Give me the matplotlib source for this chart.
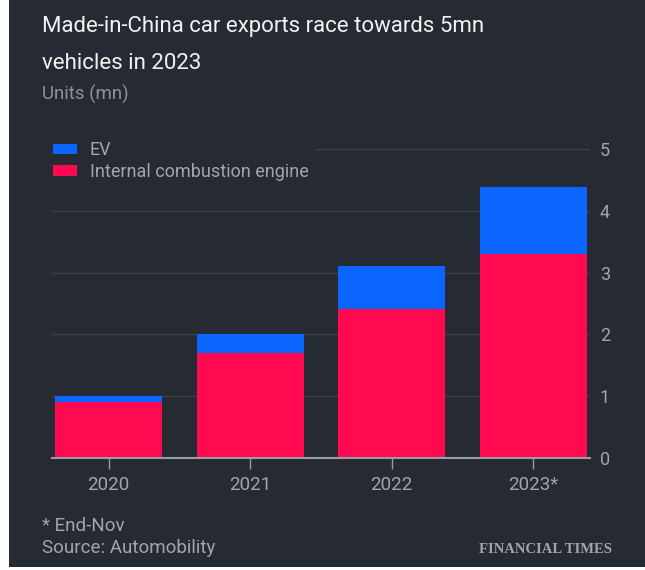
import matplotlib
matplotlib.use("Agg")
import matplotlib.pyplot as plt
from matplotlib.patches import Rectangle, Patch

years = ["2020", "2021", "2022", "2023*"]
ice = [0.90, 1.70, 2.41, 3.30]
ev = [0.10, 0.30, 0.69, 1.09]

bg = "#262a33"
blue = "#0a66ff"
pink = "#ff0a50"
grey_txt = "#a3a5aa"
grid_col = "#3d414a"

plt.rcParams['font.family'] = ['Roboto', 'DejaVu Sans']

fig = plt.figure(figsize=(6.45, 5.7), dpi=100, facecolor="white")
# dark panel (the screenshot has a thin white margin on the left and bottom)
fig.patches.append(Rectangle((9 / 645, 3 / 570), 1, 1, transform=fig.transFigure,
                             facecolor=bg, edgecolor="none", zorder=-5))

ax = fig.add_axes([52 / 645, 1 - 458 / 570, (590 - 52) / 645, (458 - 149) / 570])
ax.set_facecolor(bg)

x = list(range(len(years)))
ax.bar(x, ice, width=0.755, color=pink, zorder=3, label="Internal combustion engine")
ax.bar(x, ev, width=0.755, bottom=ice, color=blue, zorder=3, label="EV")

ax.set_xlim(-0.4, 3.4)
ax.set_ylim(0, 5)
ax.set_yticks([0, 1, 2, 3, 4, 5])
ax.yaxis.tick_right()
ax.tick_params(axis="y", length=0, pad=7, labelsize=13, labelcolor=grey_txt)
ax.set_xticks(x)
ax.set_xticklabels(years)
ax.tick_params(axis="x", length=8, width=1, color="#9a9ca0", pad=5,
               labelsize=13.5, labelcolor=grey_txt)
ax.grid(axis="y", color=grid_col, linewidth=1, zorder=0)
for s in ["left", "right", "top"]:
    ax.spines[s].set_visible(False)
ax.spines["bottom"].set_color("#9a9ca0")
ax.spines["bottom"].set_linewidth(1.5)
ax.spines["bottom"].set_zorder(4)

# legend box hides the top gridline behind it, like the original
handles = [Patch(facecolor=blue), Patch(facecolor=pink)]
leg = fig.legend(handles, ["EV", "Internal combustion engine"],
                 loc="upper left", bbox_to_anchor=(48 / 645, 1 - 136 / 570),
                 frameon=True, facecolor=bg, edgecolor=bg, framealpha=1,
                 fontsize=13, labelcolor=grey_txt, handlelength=1.3, handleheight=0.55,
                 handletextpad=0.7, labelspacing=0.2, borderpad=0.3,
                 borderaxespad=0)

fig.text(42 / 645, 1 - 32 / 570, "Made-in-China car exports race towards 5mn",
         fontsize=16, color="#f2f2f2", va="baseline")
fig.text(42 / 645, 1 - 69 / 570, "vehicles in 2023",
         fontsize=16, color="#f2f2f2", va="baseline")
fig.text(42 / 645, 1 - 100 / 570, "Units (mn)", fontsize=13.4, color="#8f9196",
         va="baseline")

fig.text(42 / 645, 1 - 531 / 570, "* End-Nov", fontsize=13.5, color=grey_txt,
         va="baseline")
fig.text(42 / 645, 1 - 553 / 570, "Source: Automobility", fontsize=13.5, color=grey_txt,
         va="baseline")
fig.text(612 / 645, 1 - 553 / 570, "FINANCIAL TIMES", fontsize=10.5, color=grey_txt,
         family="Liberation Serif", weight="bold", ha="right", va="baseline")

fig.savefig("out.png", dpi=100, facecolor=fig.get_facecolor())
